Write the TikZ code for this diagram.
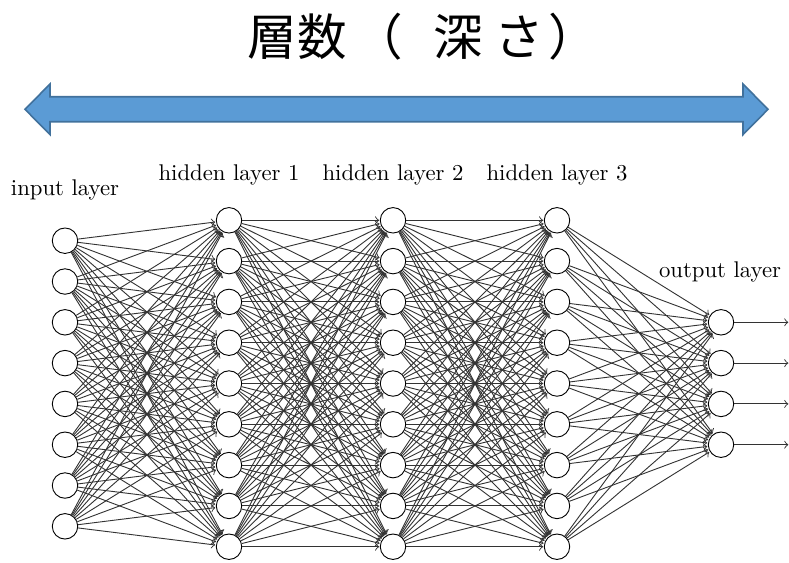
\documentclass[tikz,border=0pt]{standalone}
\usepackage{fontspec}
\newfontfamily\cjk{Noto Sans CJK JP}
\usetikzlibrary{arrows}
\definecolor{depthfill}{HTML}{5B9BD5}
\definecolor{depthline}{HTML}{41719C}

\begin{document}
\begin{tikzpicture} [x=.44pt, y=-.44pt,
  neuron/.style={circle, draw, fill=white, minimum size=11.2pt, inner sep=0},
  synapse/.style={->, draw=black!80, shorten >=.3pt},
  annot/.style={text centered}]
\useasboundingbox (0,0) rectangle (789,562);
% title and depth arrow
\node[anchor=west, inner sep=0] (title) at (247,37) {\cjk\fontsize{21.8}{26}\selectfont 層数\kern3pt（\kern13.5pt深\kern5pt さ\kern2pt）};
\filldraw[fill=depthfill, draw=depthline, line width=.7pt] (25,109.3) -- (50,84) -- (50,96.7) -- (743,96.7) -- (743,84) -- (768,109.3) -- (743,134.6) -- (743,121.7) -- (50,121.7) -- (50,134.6) -- cycle;
% neurons
\foreach \i in {1,...,8}
 \node[neuron] (I-\i) at (65, {383.5+(\i-4.5)*40.8}) {};
\foreach \l/\x in {1/229, 2/393, 3/557} {
 \foreach \j in {1,...,9}
  \node[neuron] (H\l-\j) at (\x, {383.5+(\j-5)*40.8}) {};
}
\foreach \k in {1,...,4} {
 \node[neuron] (O-\k) at (721, {383.5+(\k-2.5)*40.8}) {};
 \coordinate (Y-\k) at (789, {383.5+(\k-2.5)*40.8});
}
% connections
\foreach \i in {1,...,8}
 \foreach \j in {1,...,9}
  \draw[synapse] (I-\i) -- (H1-\j);
\foreach \a/\b in {1/2, 2/3}
 \foreach \i in {1,...,9}
  \foreach \j in {1,...,9}
   \draw[synapse] (H\a-\i) -- (H\b-\j);
\foreach \i in {1,...,9}
 \foreach \k in {1,...,4}
  \draw[synapse] (H3-\i) -- (O-\k);
\foreach \k in {1,...,4}
 \draw[synapse] (O-\k) -- (Y-\k);
% layer labels
\node[annot] (lbl-I) at (65,190) {input layer};
\node[annot] (lbl-H1) at (229,175) {hidden layer 1};
\node[annot] (lbl-H2) at (393,175) {hidden layer 2};
\node[annot] (lbl-H3) at (557,175) {hidden layer 3};
\node[annot] (lbl-O) at (720,272) {output layer};
\end{tikzpicture}
\end{document}
